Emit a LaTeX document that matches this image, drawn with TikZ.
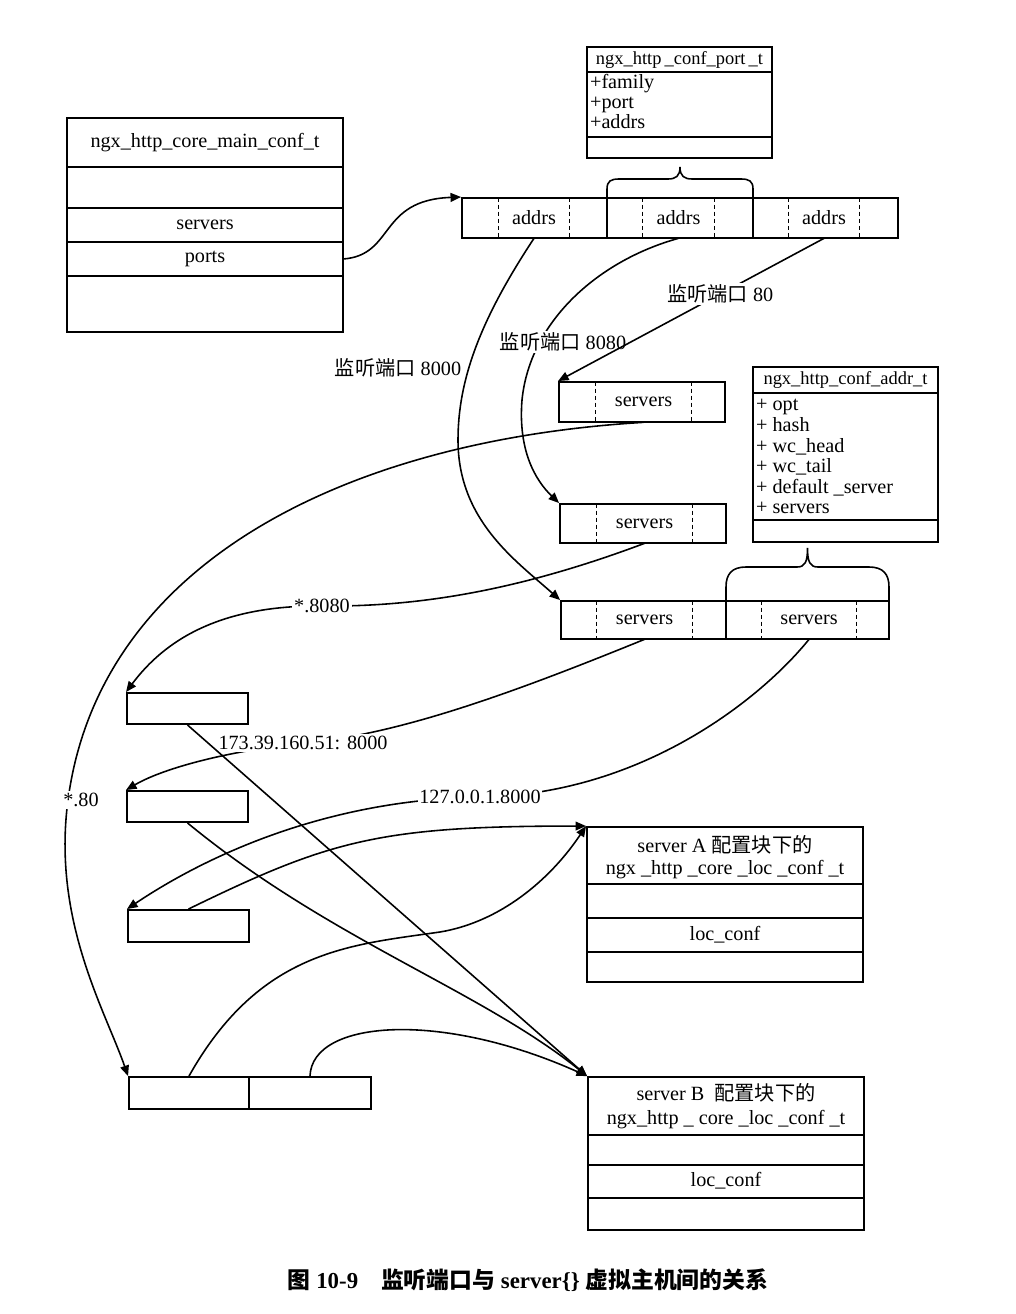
\documentclass[tikz,border=0pt]{standalone}
\usepackage{fontspec}
\setmainfont{Liberation Serif}
\newfontfamily\cjk{Noto Sans CJK SC}
\usetikzlibrary{arrows.meta}

\begin{document}
\begin{tikzpicture}[x=0.02cm, y=-0.02cm, font=\fontsize{11.5}{13}\selectfont]
\tikzstyle{arrow}=[-{Triangle[length=6pt,width=5pt]}, line width=0.9pt]
\tikzstyle{tbox}=[draw, line width=1.1pt, inner sep=0pt]
\tikzstyle{slot}=[inner sep=0pt]
\tikzstyle{sep}=[line width=1.1pt]
\tikzstyle{dsep}=[line width=0.9pt, dash pattern=on 2.5pt off 1.5pt]
\tikzstyle{lbl}=[fill=white, inner sep=1pt]
\tikzstyle{field}=[anchor=base west, inner sep=1pt]
\tikzstyle{small}=[font=\fontsize{10.5}{12}\selectfont]
\useasboundingbox (0,0) rectangle (1016,1314);

% ngx_http_core_main_conf_t
\draw node[tbox, minimum width=5.52cm, minimum height=4.28cm] (M) at (205,225) {};
\draw[sep] (67,167) -- (343,167) (67,208) -- (343,208) (67,242) -- (343,242) (67,276) -- (343,276);
\draw node (MT) at (205,143) {ngx\_http\_core\_main\_conf\_t};
\draw node (MS) at (205,225) {servers};
\draw node[minimum width=5.52cm] (MP) at (205,259) {ports};

% ngx_http_conf_port_t
\draw node[tbox, minimum width=3.7cm, minimum height=2.22cm] (P) at (679.5,102.5) {};
\draw[sep] (587,72) -- (772,72) (587,137) -- (772,137);
\draw node[small] (PT) at (679.5,60) {ngx\_http\,\_conf\_port\,\_t};
\draw node[field] (P1) at (588,89) {+family};
\draw node[field] (P2) at (588,109) {+port};
\draw node[field] (P3) at (588,129) {+addrs};

% ports array
\draw node[tbox, minimum width=8.72cm, minimum height=0.8cm] (AD) at (680,218) {};
\draw[sep] (607,198) -- (607,238) (753,198) -- (753,238);
\draw node[slot, minimum width=1.4cm, minimum height=0.8cm] (A1) at (534,218) {addrs};
\draw node[slot, minimum width=1.42cm, minimum height=0.8cm] (A2) at (678.5,218) {addrs};
\draw node[slot, minimum width=1.4cm, minimum height=0.8cm] (A3) at (824,218) {addrs};
\draw[dsep] (A1.north west) -- (A1.south west) (A1.north east) -- (A1.south east);
\draw[dsep] (A2.north west) -- (A2.south west) (A2.north east) -- (A2.south east);
\draw[dsep] (A3.north west) -- (A3.south west) (A3.north east) -- (A3.south east);
\draw[line width=0.9pt] (607,198) -- (607,189) .. controls (607,181) and (611,179) .. (619,179) -- (668,179)
  .. controls (676,179) and (680,176) .. (680,167) .. controls (680,176) and (684,179) .. (692,179)
  -- (741,179) .. controls (749,179) and (753,181) .. (753,189) -- (753,198);

% ngx_http_conf_addr_t
\draw node[tbox, minimum width=3.7cm, minimum height=3.5cm] (AA) at (845.5,454.5) {};
\draw[sep] (753,393) -- (938,393) (753,520) -- (938,520);
\draw node[small] (AT) at (845.5,380) {ngx\_http\_conf\_addr\_t};
\draw node[field] (F1) at (754,410) {+ opt};
\draw node[field] (F2) at (754,431) {+ hash};
\draw node[field] (F3) at (754,452) {+ wc\_head};
\draw node[field] (F4) at (754,472) {+ wc\_tail};
\draw node[field] (F5) at (754,493) {+ default \_server};
\draw node[field] (F6) at (754,513) {+ servers};

% addrs arrays
\draw node[tbox, minimum width=3.32cm, minimum height=0.8cm] (S1) at (642,402) {};
\draw node[slot, minimum width=1.9cm, minimum height=0.8cm] (S1c) at (643.5,402) {servers};
\draw[dsep] (S1c.north west) -- (S1c.south west) (S1c.north east) -- (S1c.south east);

\draw node[tbox, minimum width=3.32cm, minimum height=0.78cm] (S2) at (643,523.5) {};
\draw node[slot, minimum width=1.9cm, minimum height=0.78cm] (S2c) at (644.5,523.5) {servers};
\draw[dsep] (S2c.north west) -- (S2c.south west) (S2c.north east) -- (S2c.south east);

\draw node[tbox, minimum width=6.56cm, minimum height=0.76cm] (S3) at (725,620) {};
\draw[sep] (726,601) -- (726,639);
\draw node[slot, minimum width=1.9cm, minimum height=0.76cm] (S3a) at (644.5,620) {servers};
\draw node[slot, minimum width=1.88cm, minimum height=0.76cm] (S3b) at (809,620) {servers};
\draw[dsep] (S3a.north west) -- (S3a.south west) (S3a.north east) -- (S3a.south east);
\draw[dsep] (S3b.north west) -- (S3b.south west) (S3b.north east) -- (S3b.south east);
\draw[line width=0.9pt] (726,601) -- (726,587) .. controls (726,574) and (732,567) .. (746,567) -- (797,567)
  .. controls (805,567) and (807.5,562) .. (807.5,548) .. controls (807.5,562) and (810,567) .. (818,567)
  -- (869,567) .. controls (883,567) and (889,574) .. (889,587) -- (889,601);

% servers arrays
\draw node[tbox, minimum width=2.42cm, minimum height=0.62cm] (L1) at (187.5,708.5) {};
\draw node[tbox, minimum width=2.42cm, minimum height=0.62cm] (L2) at (187.5,806.5) {};
\draw node[tbox, minimum width=2.42cm, minimum height=0.64cm] (L3) at (188.5,926) {};
\draw node[tbox, minimum width=2.4cm, minimum height=0.64cm] (L4a) at (189,1093) {};
\draw node[tbox, minimum width=2.44cm, minimum height=0.64cm] (L4b) at (310,1093) {};

% ngx_http_core_loc_conf_t
\draw node[tbox, minimum width=5.52cm, minimum height=3.1cm] (SA) at (725,904.5) {};
\draw[sep] (587,884) -- (863,884) (587,918) -- (863,918) (587,952) -- (863,952);
\draw node (SA1) at (725,845) {server A {\cjk 配置块下的}};
\draw node (SA2) at (725,870) {ngx \_http \_core \_loc \_conf \_t};
\draw node (SA3) at (725,935) {loc\_conf};

\draw node[tbox, minimum width=5.52cm, minimum height=3.06cm] (SB) at (726,1153.5) {};
\draw[sep] (588,1135) -- (864,1135) (588,1165) -- (864,1165) (588,1198) -- (864,1198);
\draw node (SB1) at (726,1093) {server B\enspace{\cjk 配置块下的}};
\draw node (SB2) at (726,1120) {ngx\_http \_ core \_loc \_conf \_t};
\draw node (SB3) at (726,1181) {loc\_conf};

% connectors
\draw[arrow] (MP.east) .. controls (395,255) and (378,200) .. (AD.north west);
\draw[arrow] (A1.south) .. controls (480,320) and (458,380) .. (458,440) .. controls (458,520) and (515,560) .. (S3.north west);
\draw node (T1) at (398,368) {{\cjk 监听端口} 8000};
\draw[arrow] (A2.south) .. controls (600,260) and (530,320) .. (522,400) .. controls (518,450) and (535,480) .. (S2.north west);
\draw node[lbl] (T2) at (563,342) {{\cjk 监听端口} 8080};
\draw[arrow] (A3.south) -- node[lbl, pos=0.39] (T3) {{\cjk 监听端口} 80} (S1.north west);

\draw[arrow] (S1c.south) .. controls (350,440) and (100,560) .. (68,800) node[lbl, xshift=0.26cm] (T4) {*.80}
  .. controls (52,920) and (105,1010) .. (L4a.north west);
\draw[arrow] (S2c.south) .. controls (520,590) and (420,607) .. (322,606) node[lbl] (T5) {*.8080}
  .. controls (220,605) and (165,640) .. (L1.north west);
\draw[arrow] (S3a.south) .. controls (520,690) and (400,735) .. (303,743) node[lbl] (T6) {173.39.160.51: 8000}
  .. controls (220,752) and (160,770) .. (L2.north west);
\draw[arrow] (S3b.south) .. controls (760,700) and (640,795) .. (480,797) node[lbl] (T7) {127.0.0.1.8000}
  .. controls (320,800) and (200,860) .. (L3.north west);

\draw[arrow] (L1.south) -- (SB.north west);
\draw[arrow] (L2.south) .. controls (330,940) and (480,990) .. (SB.north west);
\draw[arrow] (L3.north) .. controls (330,840) and (380,826) .. (SA.north west);
\draw[arrow] (L4a.north) .. controls (260,950) and (350,945) .. (440,932) .. controls (500,922) and (550,880) .. (SA.north west);
\draw[arrow] (L4b.north) .. controls (312,1020) and (440,1010) .. (SB.north west);

% caption
\draw node[font=\fontsize{13}{15}\selectfont\bfseries] (CAP) at (528,1280)
  {{\cjk 图} 10-9\quad{\cjk 监听端口与} server\{\} {\cjk 虚拟主机间的关系}};

\end{tikzpicture}
\end{document}
